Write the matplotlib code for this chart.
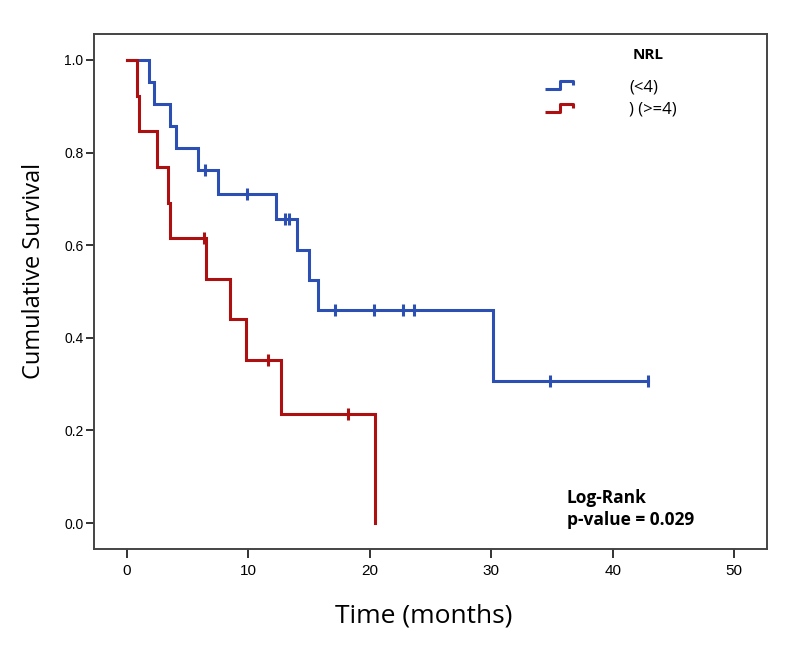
from matplotlib import pyplot as plt
from matplotlib.lines import Line2D
from matplotlib.path import Path
import numpy as np

# Kaplan-Meier steps
low_times = [0, 1.8, 2.2, 3.5, 4.0, 5.85, 7.5, 12.3, 14.0, 15.0, 15.7, 30.1, 42.9]
low_surv = [1.0, 0.952, 0.905, 0.857, 0.810, 0.762, 0.711, 0.656, 0.590, 0.525, 0.459, 0.306, 0.306]
low_censored = [6.4, 9.9, 13.0, 13.3, 17.1, 20.3, 22.7, 23.6, 34.8, 42.9]

high_times = [0, 0.8, 1.0, 2.5, 3.4, 3.5, 6.5, 8.5, 9.8, 12.7, 20.4]
high_surv = [1.0, 0.923, 0.846, 0.769, 0.692, 0.615, 0.527, 0.440, 0.352, 0.235, 0.0]
high_censored = [6.3, 11.6, 18.2]

group_labels = ['(<4)', ') (>=4)']
blue = '#2c4fb3'
red = '#ad1010'
xticks = [0, 10, 20, 30, 40, 50]
yticks = [0.0, 0.2, 0.4, 0.6, 0.8, 1.0]


def surv_at(times, surv, t):
    idx = np.searchsorted(times, t, side='right') - 1
    return np.array(surv)[idx]


fig = plt.figure(figsize=(8, 6.5), dpi=100)
ax = fig.add_axes([0.1175, 0.1554, 0.8413, 0.7923])

for times, surv, cens, c in [(low_times, low_surv, low_censored, blue),
                             (high_times, high_surv, high_censored, red)]:
    ax.step(times, surv, where='post', color=c, lw=2.2, solid_joinstyle='miter')
    ax.plot(cens, surv_at(times, surv, cens), ls='none', marker='|',
            color=c, markersize=9, mew=2.2)

ax.set_xlim(-2.72, 52.7)
ax.set_ylim(-0.056, 1.056)
ax.set_xticks(xticks)
ax.set_yticks(yticks)
ax.set_yticklabels([f'{v:.1f}' for v in yticks])

tick_font = ['Liberation Sans Narrow', 'Liberation Sans', 'DejaVu Sans']
for lab in ax.get_xticklabels():
    lab.set_family(tick_font)
    lab.set_fontsize(11)
for lab in ax.get_yticklabels():
    lab.set_family(tick_font)
    lab.set_fontsize(10)
ax.tick_params(axis='x', direction='out', length=6.5, width=1.4, pad=4, color='#333333')
ax.tick_params(axis='y', direction='out', length=6, width=1.4, pad=1.5, color='#333333')
for sp in ax.spines.values():
    sp.set_color('#444444')
    sp.set_linewidth(1.4)

ax.set_xlabel('Time (months)', family='Open Sans', fontsize=19)
ax.xaxis.set_label_coords((424 - 94) / 673, -(604 - 549) / 515)
ax.set_ylabel('Cumulative Survival', family='Open Sans', fontsize=17)
ax.yaxis.set_label_coords(-(94 - 46) / 673, (549 - 271) / 515)

fig.text(567 / 800, 1 - 509 / 650, 'Log-Rank\np-value = 0.029', family='Open Sans',
         fontweight='bold', fontsize=12.5, va='center', linespacing=1.3)

# legend
step_icon = Path([(-1, -0.32), (0.08, -0.32), (0.08, 0.32), (1, 0.32), (1, 0.0)],
                 [Path.MOVETO, Path.LINETO, Path.LINETO, Path.LINETO, Path.LINETO])
handles = [Line2D([], [], ls='none', marker=step_icon, markersize=20, mfc='none',
                  mec=c, mew=2.2) for c in [blue, red]]
leg = ax.legend(handles, group_labels, frameon=False, loc='upper left',
                bbox_to_anchor=(545 / 800, 1 - 79 / 650), bbox_transform=fig.transFigure,
                borderaxespad=0, borderpad=0, handlelength=1.65, handletextpad=3.4,
                labelspacing=0.4, prop={'family': 'Open Sans', 'size': 12})
fig.text(633 / 800, 1 - 55 / 650, 'NRL', family='Open Sans', fontweight='bold',
         fontsize=11, va='center')

plt.savefig('out.png', dpi=100)
